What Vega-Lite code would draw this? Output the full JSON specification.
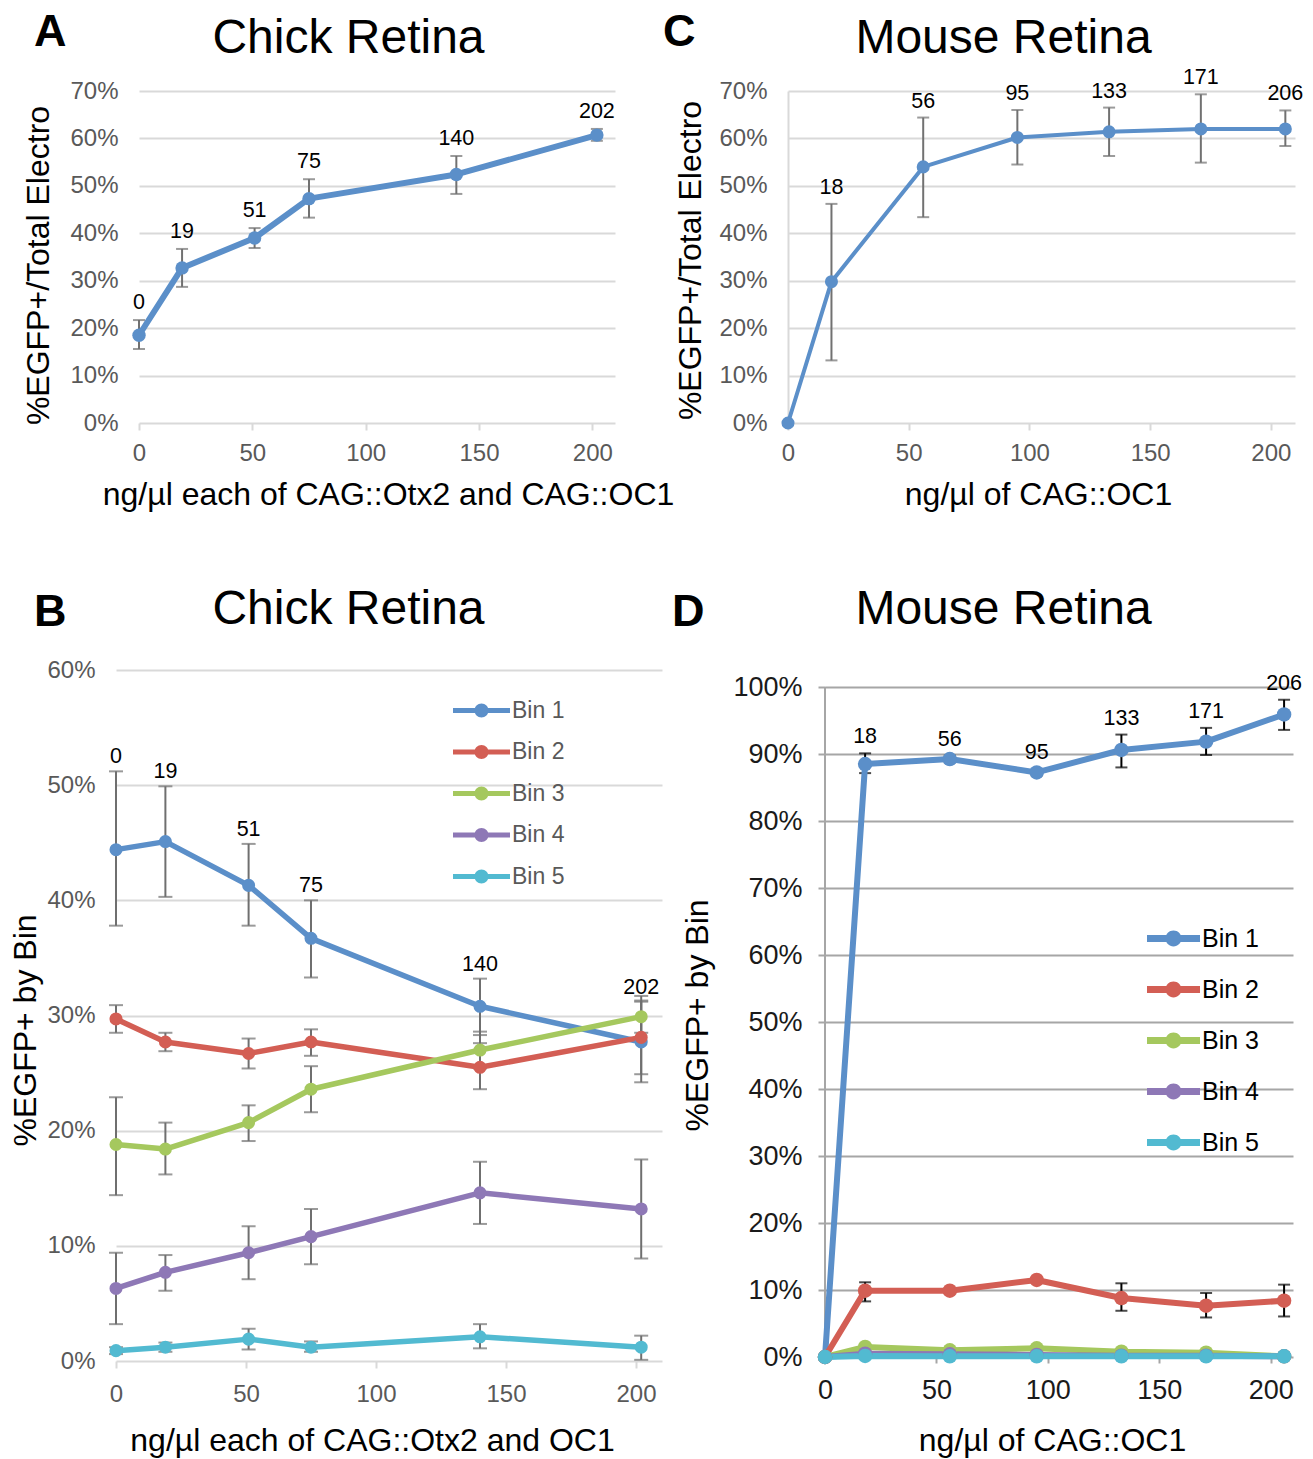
{
  "$schema": "https://vega.github.io/schema/vega-lite/v6.json",
  "background": "white",
  "padding": {"left": 9, "top": 9, "right": 4, "bottom": 4},
  "spacing": 75,
  "resolve": {"scale": {"color": "independent", "stroke": "independent"}, "legend": {"color": "independent", "stroke": "independent"}},
  "config": {
    "font": "Liberation Sans",
    "view": {"stroke": null},
    "axis": {"labelFont": "Liberation Sans", "titleFont": "Liberation Sans", "labelFlush": false, "labelOverlap": false},
    "legend": {"labelFont": "Liberation Sans"},
    "text": {"font": "Liberation Sans"}
  },
  "vconcat": [
    {
      "hconcat": [
        {
          "hconcat": [
            {"width": 3, "height": 20, "data": {"values": [{"s": 0}]}, "mark": {"type": "point", "opacity": 0}},
            {
              "width": 476, "height": 332,
              "data": {"values": [
                {"x": 0, "v": 18.5, "lo": 15.6, "hi": 21.7},
                {"x": 19, "v": 32.7, "lo": 28.7, "hi": 36.7},
                {"x": 51, "v": 39.0, "lo": 36.9, "hi": 41.1},
                {"x": 75, "v": 47.3, "lo": 43.3, "hi": 51.4},
                {"x": 140, "v": 52.4, "lo": 48.3, "hi": 56.3},
                {"x": 202, "v": 60.7, "lo": 59.5, "hi": 62.0}
              ]},
              "layer": [
                {"mark": {"type": "rule", "color": "#717171", "strokeWidth": 2},
                 "encoding": {
                   "x": {"field": "x", "type": "quantitative", "scale": {"domain": [0, 210], "nice": false, "zero": false}, "axis": null},
                   "y": {"field": "lo", "type": "quantitative", "scale": {"domain": [0, 70], "nice": false}, "axis": null},
                   "y2": {"field": "hi"}}},
                {"mark": {"type": "tick", "orient": "horizontal", "size": 12, "thickness": 2, "color": "#717171"},
                 "encoding": {
                   "x": {"field": "x", "type": "quantitative", "axis": null},
                   "y": {"field": "lo", "type": "quantitative", "axis": null}}},
                {"mark": {"type": "tick", "orient": "horizontal", "size": 12, "thickness": 2, "color": "#717171"},
                 "encoding": {
                   "x": {"field": "x", "type": "quantitative", "axis": null},
                   "y": {"field": "hi", "type": "quantitative", "axis": null}}},
                {"mark": {"type": "line", "color": "#5B8FC9", "strokeWidth": 6, "strokeJoin": "round"},
                 "encoding": {
                   "x": {"field": "x", "type": "quantitative", "axis": {
                     "orient": "bottom", "values": [0, 50, 100, 150, 200], "labelFontSize": 24, "labelColor": "#595959",
                     "ticks": true, "tickSize": 7, "tickColor": "#D9D9D9", "tickWidth": 2, "labelPadding": 11,
                     "domain": false, "grid": false,
                     "title": "ng/µl each of CAG::Otx2 and CAG::OC1", "titleFontSize": 32, "titleFontWeight": "normal", "titleColor": "#000000",
                     "titleAlign": "center", "titleBaseline": "middle", "titleX": 249, "titleY": 71}},
                   "y": {"field": "v", "type": "quantitative", "axis": {
                     "orient": "left", "values": [0, 10, 20, 30, 40, 50, 60, 70], "labelExpr": "datum.value + '%'",
                     "labelFontSize": 24, "labelColor": "#595959", "labelPadding": 21, "ticks": false, "domain": false,
                     "grid": true, "gridColor": "#D9D9D9", "gridWidth": 2,
                     "title": "%EGFP+/Total Electro", "titleFontSize": 32, "titleFontWeight": "normal", "titleColor": "#000000",
                     "titleAngle": 270, "titleAlign": "center", "titleBaseline": "middle", "titleX": -101, "titleY": 174}}}},
                {"mark": {"type": "point", "filled": true, "size": 180, "color": "#5B8FC9", "opacity": 1},
                 "encoding": {
                   "x": {"field": "x", "type": "quantitative", "axis": null},
                   "y": {"field": "v", "type": "quantitative", "axis": null}}},
                {"mark": {"type": "text", "fontSize": 21.5, "dy": -17, "baseline": "middle", "color": "#000000"},
                 "encoding": {
                   "x": {"field": "x", "type": "quantitative", "axis": {
                     "orient": "top", "labels": false, "ticks": false, "domain": false, "grid": false,
                     "title": "Chick Retina", "titleFontSize": 48, "titleFontWeight": "normal", "titleColor": "#000000",
                     "titleAlign": "center", "titleBaseline": "alphabetic", "titleX": 209, "titleY": -38.7}},
                   "y": {"field": "hi", "type": "quantitative", "axis": {
                     "orient": "right", "labels": false, "ticks": false, "domain": false, "grid": false,
                     "title": "A", "titleFontSize": 45, "titleFontWeight": "bold", "titleColor": "#000000", "titleAngle": 0,
                     "titleAlign": "right", "titleBaseline": "alphabetic", "titleX": -549, "titleY": -45.7}},
                   "text": {"field": "x", "type": "quantitative"}}}
              ],
              "resolve": {"axis": {"x": "independent", "y": "independent"}}
            }
          ],
          "spacing": 20,
          "bounds": "flush"
        },
        {
          "width": 507, "height": 332,
          "data": {"values": [
            {"x": 0, "v": 0},
            {"x": 18, "v": 29.8, "lo": 13.2, "hi": 46.2},
            {"x": 56, "v": 54.0, "lo": 43.4, "hi": 64.4},
            {"x": 95, "v": 60.2, "lo": 54.5, "hi": 66.0},
            {"x": 133, "v": 61.4, "lo": 56.3, "hi": 66.5},
            {"x": 171, "v": 62.0, "lo": 54.9, "hi": 69.3},
            {"x": 206, "v": 62.0, "lo": 58.4, "hi": 65.9}
          ]},
          "layer": [
            {"transform": [{"filter": "isValid(datum.lo)"}],
             "mark": {"type": "rule", "color": "#717171", "strokeWidth": 2},
             "encoding": {
               "x": {"field": "x", "type": "quantitative", "scale": {"domain": [0, 210], "nice": false, "zero": false}, "axis": null},
               "y": {"field": "lo", "type": "quantitative", "scale": {"domain": [0, 70], "nice": false}, "axis": null},
               "y2": {"field": "hi"}}},
            {"transform": [{"filter": "isValid(datum.lo)"}],
             "mark": {"type": "tick", "orient": "horizontal", "size": 12, "thickness": 2, "color": "#717171"},
             "encoding": {
               "x": {"field": "x", "type": "quantitative", "axis": null},
               "y": {"field": "lo", "type": "quantitative", "axis": null}}},
            {"transform": [{"filter": "isValid(datum.lo)"}],
             "mark": {"type": "tick", "orient": "horizontal", "size": 12, "thickness": 2, "color": "#717171"},
             "encoding": {
               "x": {"field": "x", "type": "quantitative", "axis": null},
               "y": {"field": "hi", "type": "quantitative", "axis": null}}},
            {"mark": {"type": "line", "color": "#5B8FC9", "strokeWidth": 4, "strokeJoin": "round"},
             "encoding": {
               "x": {"field": "x", "type": "quantitative", "axis": {
                 "orient": "bottom", "values": [0, 50, 100, 150, 200], "labelFontSize": 24, "labelColor": "#595959",
                 "ticks": true, "tickSize": 7, "tickColor": "#D9D9D9", "tickWidth": 2, "labelPadding": 11,
                 "domain": false, "grid": false,
                 "title": "ng/µl of CAG::OC1", "titleFontSize": 32, "titleFontWeight": "normal", "titleColor": "#000000",
                 "titleAlign": "center", "titleBaseline": "middle", "titleX": 250, "titleY": 71}},
               "y": {"field": "v", "type": "quantitative", "axis": {
                 "orient": "left", "values": [0, 10, 20, 30, 40, 50, 60, 70], "labelExpr": "datum.value + '%'",
                 "labelFontSize": 24, "labelColor": "#595959", "labelPadding": 21, "ticks": false,
                 "domain": true, "domainColor": "#D9D9D9", "domainWidth": 2,
                 "grid": true, "gridColor": "#D9D9D9", "gridWidth": 2,
                 "title": "%EGFP+/Total Electro", "titleFontSize": 32, "titleFontWeight": "normal", "titleColor": "#000000",
                 "titleAngle": 270, "titleAlign": "center", "titleBaseline": "middle", "titleX": -98, "titleY": 169}}}},
            {"mark": {"type": "point", "filled": true, "size": 170, "color": "#5B8FC9", "opacity": 1},
             "encoding": {
               "x": {"field": "x", "type": "quantitative", "axis": null},
               "y": {"field": "v", "type": "quantitative", "axis": null}}},
            {"transform": [{"filter": "isValid(datum.hi)"}],
             "mark": {"type": "text", "fontSize": 21.5, "dy": -16, "baseline": "middle", "color": "#000000"},
             "encoding": {
               "x": {"field": "x", "type": "quantitative", "axis": {
                 "orient": "top", "labels": false, "ticks": false, "domain": false, "grid": false,
                 "title": "Mouse Retina", "titleFontSize": 48, "titleFontWeight": "normal", "titleColor": "#000000",
                 "titleAlign": "center", "titleBaseline": "alphabetic", "titleX": 215, "titleY": -38.7}},
               "y": {"field": "hi", "type": "quantitative", "axis": {
                 "orient": "right", "labels": false, "ticks": false, "domain": false, "grid": false,
                 "title": "C", "titleFontSize": 45, "titleFontWeight": "bold", "titleColor": "#000000", "titleAngle": 0,
                 "titleAlign": "right", "titleBaseline": "alphabetic", "titleX": -600, "titleY": -45.7}},
               "text": {"field": "x", "type": "quantitative"}}}
          ],
          "resolve": {"axis": {"x": "independent", "y": "independent"}}
        }
      ],
      "spacing": 672,
      "bounds": "flush"
    },
    {
      "hconcat": [
        {
          "width": 546, "height": 691,
          "data": {"values": [
            {"bin": "Bin 1", "x": 0, "v": 44.4, "lo": 37.8, "hi": 51.2},
            {"bin": "Bin 1", "x": 19, "v": 45.1, "lo": 40.3, "hi": 49.9},
            {"bin": "Bin 1", "x": 51, "v": 41.3, "lo": 37.8, "hi": 44.9},
            {"bin": "Bin 1", "x": 75, "v": 36.7, "lo": 33.3, "hi": 40.0},
            {"bin": "Bin 1", "x": 140, "v": 30.8, "lo": 28.3, "hi": 33.2},
            {"bin": "Bin 1", "x": 202, "v": 27.7, "lo": 24.2, "hi": 31.2},
            {"bin": "Bin 2", "x": 0, "v": 29.7, "lo": 28.5, "hi": 30.9},
            {"bin": "Bin 2", "x": 19, "v": 27.7, "lo": 26.9, "hi": 28.5},
            {"bin": "Bin 2", "x": 51, "v": 26.7, "lo": 25.4, "hi": 28.0},
            {"bin": "Bin 2", "x": 75, "v": 27.7, "lo": 26.5, "hi": 28.8},
            {"bin": "Bin 2", "x": 140, "v": 25.5, "lo": 23.6, "hi": 27.6},
            {"bin": "Bin 2", "x": 202, "v": 28.1, "lo": 24.9, "hi": 31.7},
            {"bin": "Bin 3", "x": 0, "v": 18.8, "lo": 14.4, "hi": 22.9},
            {"bin": "Bin 3", "x": 19, "v": 18.4, "lo": 16.2, "hi": 20.7},
            {"bin": "Bin 3", "x": 51, "v": 20.7, "lo": 19.1, "hi": 22.2},
            {"bin": "Bin 3", "x": 75, "v": 23.6, "lo": 21.6, "hi": 25.6},
            {"bin": "Bin 3", "x": 140, "v": 27.0, "lo": 25.4, "hi": 28.6},
            {"bin": "Bin 3", "x": 202, "v": 29.9, "lo": 28.5, "hi": 31.3},
            {"bin": "Bin 4", "x": 0, "v": 6.3, "lo": 3.2, "hi": 9.4},
            {"bin": "Bin 4", "x": 19, "v": 7.7, "lo": 6.1, "hi": 9.2},
            {"bin": "Bin 4", "x": 51, "v": 9.4, "lo": 7.1, "hi": 11.7},
            {"bin": "Bin 4", "x": 75, "v": 10.8, "lo": 8.4, "hi": 13.2},
            {"bin": "Bin 4", "x": 140, "v": 14.6, "lo": 11.9, "hi": 17.3},
            {"bin": "Bin 4", "x": 202, "v": 13.2, "lo": 8.9, "hi": 17.5},
            {"bin": "Bin 5", "x": 0, "v": 0.9, "lo": 0.6, "hi": 1.2},
            {"bin": "Bin 5", "x": 19, "v": 1.2, "lo": 0.8, "hi": 1.6},
            {"bin": "Bin 5", "x": 51, "v": 1.9, "lo": 1.0, "hi": 2.8},
            {"bin": "Bin 5", "x": 75, "v": 1.2, "lo": 0.8, "hi": 1.7},
            {"bin": "Bin 5", "x": 140, "v": 2.1, "lo": 1.1, "hi": 3.2},
            {"bin": "Bin 5", "x": 202, "v": 1.2, "lo": 0.1, "hi": 2.2}
          ]},
          "layer": [
            {"mark": {"type": "rule", "color": "#6F6F6F", "strokeWidth": 2},
             "encoding": {
               "x": {"field": "x", "type": "quantitative", "scale": {"domain": [0, 210], "nice": false, "zero": false}, "axis": null},
               "y": {"field": "lo", "type": "quantitative", "scale": {"domain": [0, 60], "nice": false}, "axis": null},
               "y2": {"field": "hi"}}},
            {"mark": {"type": "tick", "orient": "horizontal", "size": 14, "thickness": 2, "color": "#6F6F6F"},
             "encoding": {
               "x": {"field": "x", "type": "quantitative", "axis": null},
               "y": {"field": "lo", "type": "quantitative", "axis": null}}},
            {"mark": {"type": "tick", "orient": "horizontal", "size": 14, "thickness": 2, "color": "#6F6F6F"},
             "encoding": {
               "x": {"field": "x", "type": "quantitative", "axis": null},
               "y": {"field": "hi", "type": "quantitative", "axis": null}}},
            {"mark": {"type": "line", "strokeWidth": 5.5, "strokeJoin": "round"},
             "encoding": {
               "x": {"field": "x", "type": "quantitative", "axis": {
                 "orient": "bottom", "values": [0, 50, 100, 150, 200], "labelFontSize": 24, "labelColor": "#595959",
                 "ticks": true, "tickSize": 7, "tickColor": "#D9D9D9", "tickWidth": 2, "labelPadding": 14,
                 "domain": false, "grid": false,
                 "title": "ng/µl each of CAG::Otx2 and OC1", "titleFontSize": 32, "titleFontWeight": "normal", "titleColor": "#000000",
                 "titleAlign": "center", "titleBaseline": "middle", "titleX": 256, "titleY": 79}},
               "y": {"field": "v", "type": "quantitative", "axis": {
                 "orient": "left", "values": [0, 10, 20, 30, 40, 50, 60], "labelExpr": "datum.value + '%'",
                 "labelFontSize": 24, "labelColor": "#595959", "labelPadding": 21, "ticks": false, "domain": false,
                 "grid": true, "gridColor": "#D9D9D9", "gridWidth": 2,
                 "title": "%EGFP+ by Bin", "titleFontSize": 32, "titleFontWeight": "normal", "titleColor": "#000000",
                 "titleAngle": 270, "titleAlign": "center", "titleBaseline": "middle", "titleX": -91, "titleY": 360}},
               "stroke": {"field": "bin", "type": "nominal", "legend": null,
                 "scale": {"domain": ["Bin 5", "Bin 4", "Bin 3", "Bin 2", "Bin 1"], "range": ["#52BAD1", "#8E78B6", "#A5C85E", "#D35E54", "#5B8FC9"]}}}},
            {"mark": {"type": "point", "filled": true, "size": 170, "opacity": 1},
             "encoding": {
               "x": {"field": "x", "type": "quantitative", "axis": null},
               "y": {"field": "v", "type": "quantitative", "axis": null},
               "color": {"field": "bin", "type": "nominal",
                 "scale": {"domain": ["Bin 1", "Bin 2", "Bin 3", "Bin 4", "Bin 5"], "range": ["#5B8FC9", "#D35E54", "#A5C85E", "#8E78B6", "#52BAD1"]},
                 "legend": {"orient": "none", "legendX": 337, "legendY": 12, "title": null,
                   "symbolType": "M-1,-0.088L1,-0.088L1,0.088L-1,0.088Z M0.246,0A0.246,0.246,0,1,1,-0.246,0A0.246,0.246,0,1,1,0.246,0Z",
                   "symbolSize": 3249, "symbolStrokeWidth": 0, "labelFontSize": 23, "labelColor": "#595959",
                   "labelOffset": 2, "rowPadding": 0.5, "padding": 0, "offset": 0}}}},
            {"transform": [{"filter": "datum.bin == 'Bin 1'"}],
             "mark": {"type": "text", "fontSize": 21.5, "dy": -14, "baseline": "middle", "color": "#000000"},
             "encoding": {
               "x": {"field": "x", "type": "quantitative", "axis": {
                 "orient": "top", "labels": false, "ticks": false, "domain": false, "grid": false,
                 "title": "Chick Retina", "titleFontSize": 48, "titleFontWeight": "normal", "titleColor": "#000000",
                 "titleAlign": "center", "titleBaseline": "alphabetic", "titleX": 232, "titleY": -46.5}},
               "y": {"field": "hi", "type": "quantitative", "axis": {
                 "orient": "right", "labels": false, "ticks": false, "domain": false, "grid": false,
                 "title": "B", "titleFontSize": 45, "titleFontWeight": "bold", "titleColor": "#000000", "titleAngle": 0,
                 "titleAlign": "right", "titleBaseline": "alphabetic", "titleX": -596, "titleY": -44.5}},
               "text": {"field": "x", "type": "quantitative"}}}
          ],
          "resolve": {"axis": {"x": "independent", "y": "independent"}}
        },
        {
          "width": 468, "height": 687,
          "data": {"values": [
            {"bin": "Bin 1", "x": 0, "v": 0},
            {"bin": "Bin 1", "x": 18, "v": 88.5, "lo": 87.15, "hi": 90.1},
            {"bin": "Bin 1", "x": 56, "v": 89.25, "lo": 88.75, "hi": 89.75},
            {"bin": "Bin 1", "x": 95, "v": 87.25, "lo": 86.8, "hi": 87.7},
            {"bin": "Bin 1", "x": 133, "v": 90.6, "lo": 88.0, "hi": 92.9},
            {"bin": "Bin 1", "x": 171, "v": 91.85, "lo": 89.85, "hi": 93.9},
            {"bin": "Bin 1", "x": 206, "v": 95.9, "lo": 93.6, "hi": 98.1},
            {"bin": "Bin 2", "x": 0, "v": 0},
            {"bin": "Bin 2", "x": 18, "v": 9.9, "lo": 8.3, "hi": 11.15},
            {"bin": "Bin 2", "x": 56, "v": 9.9, "lo": 9.6, "hi": 10.2},
            {"bin": "Bin 2", "x": 95, "v": 11.5, "lo": 11.2, "hi": 11.8},
            {"bin": "Bin 2", "x": 133, "v": 8.8, "lo": 6.9, "hi": 11.0},
            {"bin": "Bin 2", "x": 171, "v": 7.65, "lo": 5.9, "hi": 9.55},
            {"bin": "Bin 2", "x": 206, "v": 8.4, "lo": 6.05, "hi": 10.8},
            {"bin": "Bin 3", "x": 0, "v": 0},
            {"bin": "Bin 3", "x": 18, "v": 1.5},
            {"bin": "Bin 3", "x": 56, "v": 1.0},
            {"bin": "Bin 3", "x": 95, "v": 1.3},
            {"bin": "Bin 3", "x": 133, "v": 0.8},
            {"bin": "Bin 3", "x": 171, "v": 0.65},
            {"bin": "Bin 3", "x": 206, "v": 0.1},
            {"bin": "Bin 4", "x": 0, "v": 0},
            {"bin": "Bin 4", "x": 18, "v": 0.5},
            {"bin": "Bin 4", "x": 56, "v": 0.4},
            {"bin": "Bin 4", "x": 95, "v": 0.3},
            {"bin": "Bin 4", "x": 133, "v": 0.2},
            {"bin": "Bin 4", "x": 171, "v": 0.2},
            {"bin": "Bin 4", "x": 206, "v": 0.1},
            {"bin": "Bin 5", "x": 0, "v": 0},
            {"bin": "Bin 5", "x": 18, "v": 0.15},
            {"bin": "Bin 5", "x": 56, "v": 0.1},
            {"bin": "Bin 5", "x": 95, "v": 0.1},
            {"bin": "Bin 5", "x": 133, "v": 0.1},
            {"bin": "Bin 5", "x": 171, "v": 0.1},
            {"bin": "Bin 5", "x": 206, "v": 0.1}
          ]},
          "layer": [
            {"mark": {"type": "rule", "color": "#A6A6A6", "strokeWidth": 2},
             "encoding": {
               "x": {"datum": 0, "type": "quantitative", "scale": {"domain": [0, 210], "nice": false, "zero": false}, "axis": null},
               "y": {"datum": 0, "type": "quantitative", "scale": {"domain": [0, 102.54], "nice": false}, "axis": null},
               "y2": {"datum": 100}}},
            {"transform": [{"filter": "isValid(datum.lo)"}],
             "mark": {"type": "rule", "color": "#000000", "strokeWidth": 2},
             "encoding": {
               "x": {"field": "x", "type": "quantitative", "axis": null},
               "y": {"field": "lo", "type": "quantitative", "axis": null},
               "y2": {"field": "hi"}}},
            {"transform": [{"filter": "isValid(datum.lo)"}],
             "mark": {"type": "tick", "orient": "horizontal", "size": 12, "thickness": 2, "color": "#000000"},
             "encoding": {
               "x": {"field": "x", "type": "quantitative", "axis": null},
               "y": {"field": "lo", "type": "quantitative", "axis": null}}},
            {"transform": [{"filter": "isValid(datum.lo)"}],
             "mark": {"type": "tick", "orient": "horizontal", "size": 12, "thickness": 2, "color": "#000000"},
             "encoding": {
               "x": {"field": "x", "type": "quantitative", "axis": null},
               "y": {"field": "hi", "type": "quantitative", "axis": null}}},
            {"mark": {"type": "line", "strokeWidth": 6, "strokeJoin": "round"},
             "encoding": {
               "x": {"field": "x", "type": "quantitative", "axis": {
                 "orient": "bottom", "values": [0, 50, 100, 150, 200], "labelFontSize": 27, "labelColor": "#1A1A1A",
                 "ticks": true, "tickSize": 6, "tickColor": "#A6A6A6", "tickWidth": 2, "labelPadding": 14,
                 "domain": false, "grid": false,
                 "title": "ng/µl of CAG::OC1", "titleFontSize": 32, "titleFontWeight": "normal", "titleColor": "#000000",
                 "titleAlign": "center", "titleBaseline": "middle", "titleX": 227, "titleY": 83}},
               "y": {"field": "v", "type": "quantitative", "axis": {
                 "orient": "left", "values": [0, 10, 20, 30, 40, 50, 60, 70, 80, 90, 100], "labelExpr": "datum.value + '%'",
                 "labelFontSize": 27, "labelColor": "#1A1A1A", "labelPadding": 16, "ticks": true, "tickSize": 7,
                 "tickColor": "#A6A6A6", "tickWidth": 2, "domain": false,
                 "grid": true, "gridColor": "#A6A6A6", "gridWidth": 2,
                 "title": "%EGFP+ by Bin", "titleFontSize": 32, "titleFontWeight": "normal", "titleColor": "#000000",
                 "titleAngle": 270, "titleAlign": "center", "titleBaseline": "middle", "titleX": -128, "titleY": 345}},
               "stroke": {"field": "bin", "type": "nominal", "legend": null,
                 "scale": {"domain": ["Bin 5", "Bin 4", "Bin 3", "Bin 2", "Bin 1"], "range": ["#52BAD1", "#8E78B6", "#A5C85E", "#D35E54", "#5B8FC9"]}}}},
            {"mark": {"type": "point", "filled": true, "size": 210, "opacity": 1},
             "encoding": {
               "x": {"field": "x", "type": "quantitative", "axis": null},
               "y": {"field": "v", "type": "quantitative", "axis": null},
               "color": {"field": "bin", "type": "nominal",
                 "scale": {"domain": ["Bin 1", "Bin 2", "Bin 3", "Bin 4", "Bin 5"], "range": ["#5B8FC9", "#D35E54", "#A5C85E", "#8E78B6", "#52BAD1"]},
                 "legend": {"orient": "none", "legendX": 322, "legendY": 242, "title": null,
                   "symbolType": "M-1,-0.13L1,-0.13L1,0.13L-1,0.13Z M0.3,0A0.3,0.3,0,1,1,-0.3,0A0.3,0.3,0,1,1,0.3,0Z",
                   "symbolSize": 2809, "symbolStrokeWidth": 0, "labelFontSize": 25, "labelColor": "#000000",
                   "labelOffset": 2, "rowPadding": 11, "padding": 0, "offset": 0}}}},
            {"transform": [{"filter": "datum.bin == 'Bin 1' && isValid(datum.hi)"}],
             "mark": {"type": "text", "fontSize": 21.5, "dy": -16, "baseline": "middle", "color": "#000000"},
             "encoding": {
               "x": {"field": "x", "type": "quantitative", "axis": {
                 "orient": "top", "labels": false, "ticks": false, "domain": false, "grid": false,
                 "title": "Mouse Retina", "titleFontSize": 48, "titleFontWeight": "normal", "titleColor": "#000000",
                 "titleAlign": "center", "titleBaseline": "alphabetic", "titleX": 178, "titleY": -46.5}},
               "y": {"field": "hi", "type": "quantitative", "axis": {
                 "orient": "right", "labels": false, "ticks": false, "domain": false, "grid": false,
                 "title": "D", "titleFontSize": 45, "titleFontWeight": "bold", "titleColor": "#000000", "titleAngle": 0,
                 "titleAlign": "right", "titleBaseline": "alphabetic", "titleX": -589, "titleY": -44.5}},
               "text": {"field": "x", "type": "quantitative"}}}
          ],
          "resolve": {"axis": {"x": "independent", "y": "independent"}}
        }
      ],
      "spacing": 163,
      "bounds": "flush",
      "resolve": {"scale": {"color": "independent", "stroke": "independent"}, "legend": {"color": "independent", "stroke": "independent"}}
    }
  ]
}
